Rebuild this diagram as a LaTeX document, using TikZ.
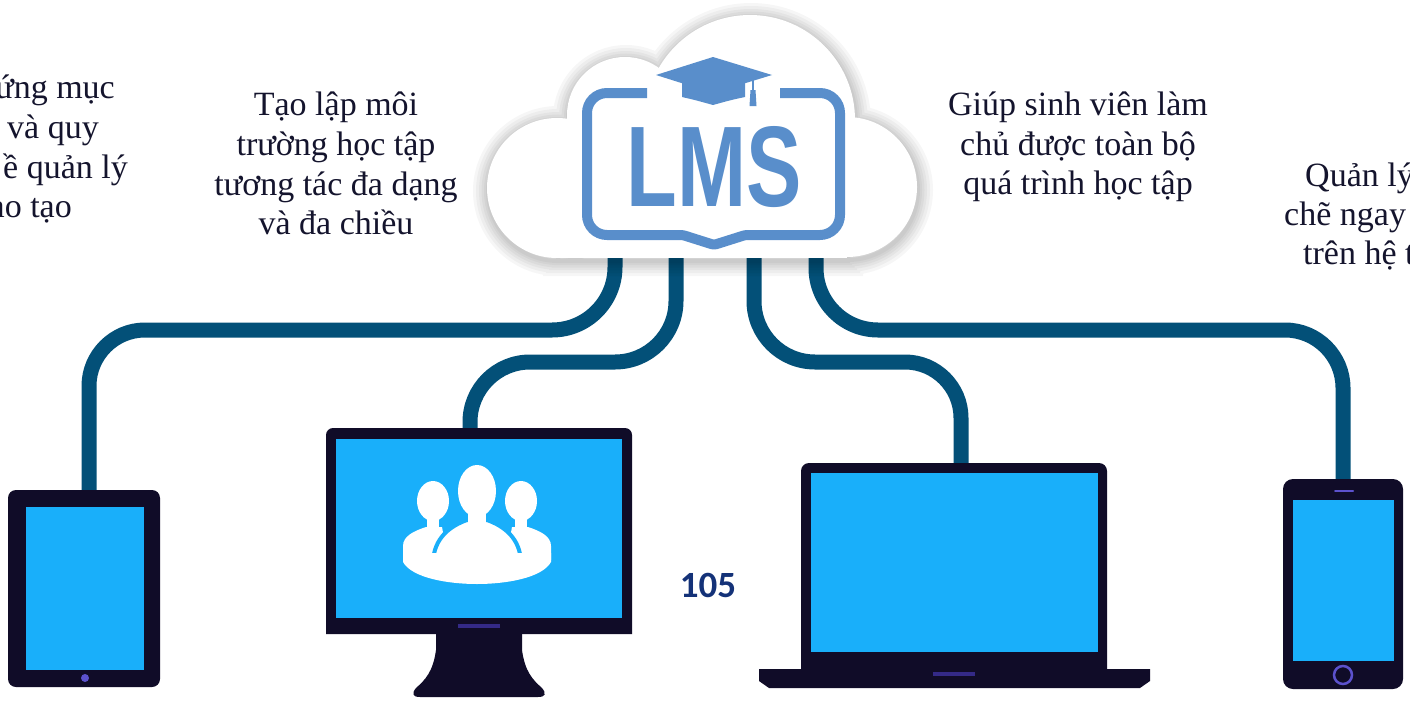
\documentclass[tikz,border=0pt]{standalone}
\usepackage{fontspec}
\setmainfont{Liberation Serif}
\newfontfamily\logofont{Liberation Sans}
\newfontfamily\numfont{Carlito}
\definecolor{cablecol}{RGB}{3,80,120}
\definecolor{logocol}{RGB}{89,142,203}
\definecolor{devcol}{RGB}{16,12,40}
\definecolor{scrcol}{RGB}{25,175,250}
\definecolor{btncol}{RGB}{92,82,205}
\definecolor{barcol}{RGB}{52,42,135}
\definecolor{txtcol}{RGB}{20,20,45}
\definecolor{numcol}{RGB}{20,50,120}
\begin{document}
\begin{tikzpicture}[x=1pt,y=-1pt,
  cable/.style={draw=cablecol,line width=15pt},
  txt/.style={font=\fontsize{34}{40}\selectfont,text=txtcol,inner sep=0pt,anchor=base},
  dev/.style={fill=devcol},
  scr/.style={fill=scrcol},
  person/.style={fill=white}]
\useasboundingbox (0,0) rectangle (1410,704);
\clip (0,0) rectangle (1410,704);
\fill[white] (0,0) rectangle (1410,704);

% connectors from the cloud to the devices
\coordinate (c1) at (615,250);
\coordinate (c2) at (676,250);
\coordinate (c3) at (754,250);
\coordinate (c4) at (816,250);
\coordinate (tabtop) at (89,492);
\coordinate (montop) at (470,432);
\coordinate (laptop) at (961,465);
\coordinate (phntop) at (1343,481);
\draw[cable] (c1) -- (615,267) arc[start angle=0,end angle=90,radius=63]
  -- (145,330) arc[start angle=270,end angle=180,radius=56] -- (tabtop);
\draw[cable] (c2) -- (676,301) arc[start angle=0,end angle=90,radius=61]
  -- (530,362) arc[start angle=270,end angle=180,radius=60] -- (montop);
\draw[cable] (c3) -- (754,301) arc[start angle=180,end angle=90,radius=61]
  -- (905,362) arc[start angle=270,end angle=360,radius=56] -- (laptop);
\draw[cable] (c4) -- (816,268) arc[start angle=180,end angle=90,radius=62]
  -- (1285,330) arc[start angle=270,end angle=360,radius=58] -- (phntop);

% cloud: soft shadow first, then the four lobes and the flat base in white
\begin{scope}[shift={(1,3)}]
\foreach \w in {30,24,18,13,8,4}
  \draw[black,line width=\w pt,opacity=0.035]
    (557,188) circle[radius=70] (625,115) circle[radius=58]
    (750,120) circle[radius=105] (847,187) circle[radius=70]
    (557,140) rectangle (847,258);
\end{scope}
\fill[white] (557,188) circle[radius=70];
\fill[white] (625,115) circle[radius=58];
\fill[white] (750,120) circle[radius=105];
\fill[white] (847,187) circle[radius=70];
\fill[white] (557,140) rectangle (847,258);

% LMS badge
\draw[logocol,line width=10pt,line join=round]
  (647,93) -- (607,93) arc[start angle=270,end angle=180,radius=20]
  -- (587,215) arc[start angle=180,end angle=90,radius=20]
  -- (677,235) .. controls (683,235) .. (689,237) -- (708,243) .. controls (714,245) .. (720,243)
  -- (739,237) .. controls (745,235) .. (751,235)
  -- (820,235) arc[start angle=90,end angle=0,radius=20]
  -- (840,113) arc[start angle=0,end angle=-90,radius=20] -- (780,93);
\fill[logocol] (656,75) -- (713,57) -- (772,75) -- (713,93) -- cycle;
\fill[logocol] (682,80) -- (682,97) .. controls (695,100) .. (713,105) .. controls (731,100) .. (745,97) -- (745,80) -- cycle;
\draw[logocol,line width=2pt] (753,76) -- (753,92);
\fill[logocol] (750.5,90) -- (755.5,90) -- (756.5,106) -- (749.5,106) -- cycle;
\node[inner sep=0pt,text=logocol] (lms) at (714.5,167)
  {\resizebox{175pt}{80pt}{\logofont\bfseries LMS}};

% captions
\node[txt,anchor=base east] (l1) at (115,98) {ứng mục};
\node[txt,anchor=base east] (l2) at (99,138) {và quy};
\node[txt,anchor=base east] (l3) at (128,178) {ề quản lý};
\node[txt,anchor=base east] (l4) at (72,217) {ào tạo};

\node[txt] (m1) at (336,115) {Tạo lập môi};
\node[txt] (m2) at (336,155) {trường học tập};
\node[txt] (m3) at (336,195) {tương tác đa dạng};
\node[txt] (m4) at (336,234) {và đa chiều};

\node[txt] (r1) at (1078,115) {Giúp sinh viên làm};
\node[txt] (r2) at (1078,155) {chủ được toàn bộ};
\node[txt] (r3) at (1078,194) {quá trình học tập};

\node[txt,anchor=base west] (q1) at (1305,186) {Quản lý};
\node[txt,anchor=base west] (q2) at (1284,225) {chẽ ngay};
\node[txt,anchor=base west] (q3) at (1303,264) {trên hệ t};

\node[inner sep=0pt,text=numcol,font=\numfont\bfseries\fontsize{37}{40}\selectfont] (num) at (708,585) {105};

% tablet
\fill[dev,rounded corners=8pt] (8,490) rectangle (160,687);
\fill[scr] (26,507) rectangle (144,670);
\fill[btncol] (85,678) circle[radius=4];

% desktop monitor
\fill[dev] (326,634) [rounded corners=7pt] -- (326,428) -- (632,428) [sharp corners] -- (632,634) -- cycle;
\fill[scr] (336,439) rectangle (622,618);
\fill[barcol] (458,624) rectangle (500,628);
\fill[dev] (436,634) -- (436,650) .. controls (433,672) and (425,680) .. (416,688)
  .. controls (411,694) and (413,697) .. (420,697) -- (538,697)
  .. controls (545,697) and (547,694) .. (542,688)
  .. controls (533,680) and (525,672) .. (522,650) -- (522,634) -- cycle;
% group of people on the monitor
\fill[person] (433,501) ellipse[x radius=16,y radius=20];
\fill[person] (521,501) ellipse[x radius=16,y radius=20];
\fill[person] (427,512) rectangle (439,530);
\fill[person] (515,512) rectangle (527,530);
\fill[person] (403,560) -- (403,546) .. controls (403,536) and (414,531) .. (426,527)
  -- (442,527) -- (448,560) -- cycle;
\fill[person] (551,560) -- (551,546) .. controls (551,536) and (540,531) .. (528,527)
  -- (512,527) -- (506,560) -- cycle;
\filldraw[fill=white,draw=scrcol,line width=4pt] (433,562) .. controls (434,538) and (450,526) .. (467,520)
  -- (487,520) .. controls (504,526) and (520,538) .. (521,562) -- cycle;
\fill[person] (477,491) ellipse[x radius=19,y radius=26];
\fill[person] (468,505) rectangle (486,523);
\fill[person] (403,553) -- (403,562) .. controls (412,578) and (448,584) .. (477,584)
  .. controls (506,584) and (542,578) .. (551,562) -- (551,553) -- cycle;

% laptop
\fill[dev] (801,669) [rounded corners=8pt] -- (801,463) -- (1107,463) [sharp corners] -- (1107,669) -- cycle;
\fill[scr] (811,473) rectangle (1098,652);
\fill[dev] (759,669) -- (1150,669) -- (1150,681) -- (1140,688) -- (769,688) -- (759,681) -- cycle;
\fill[barcol] (933,672) rectangle (975,676);

% phone
\fill[dev,rounded corners=10pt] (1283,479) rectangle (1403,689);
\fill[scr] (1293,500) rectangle (1394,661);
\draw[btncol,line width=2pt,line cap=round] (1335,491) -- (1353,491);
\draw[btncol,line width=2.5pt] (1343,675) circle[radius=9];
\end{tikzpicture}
\end{document}
